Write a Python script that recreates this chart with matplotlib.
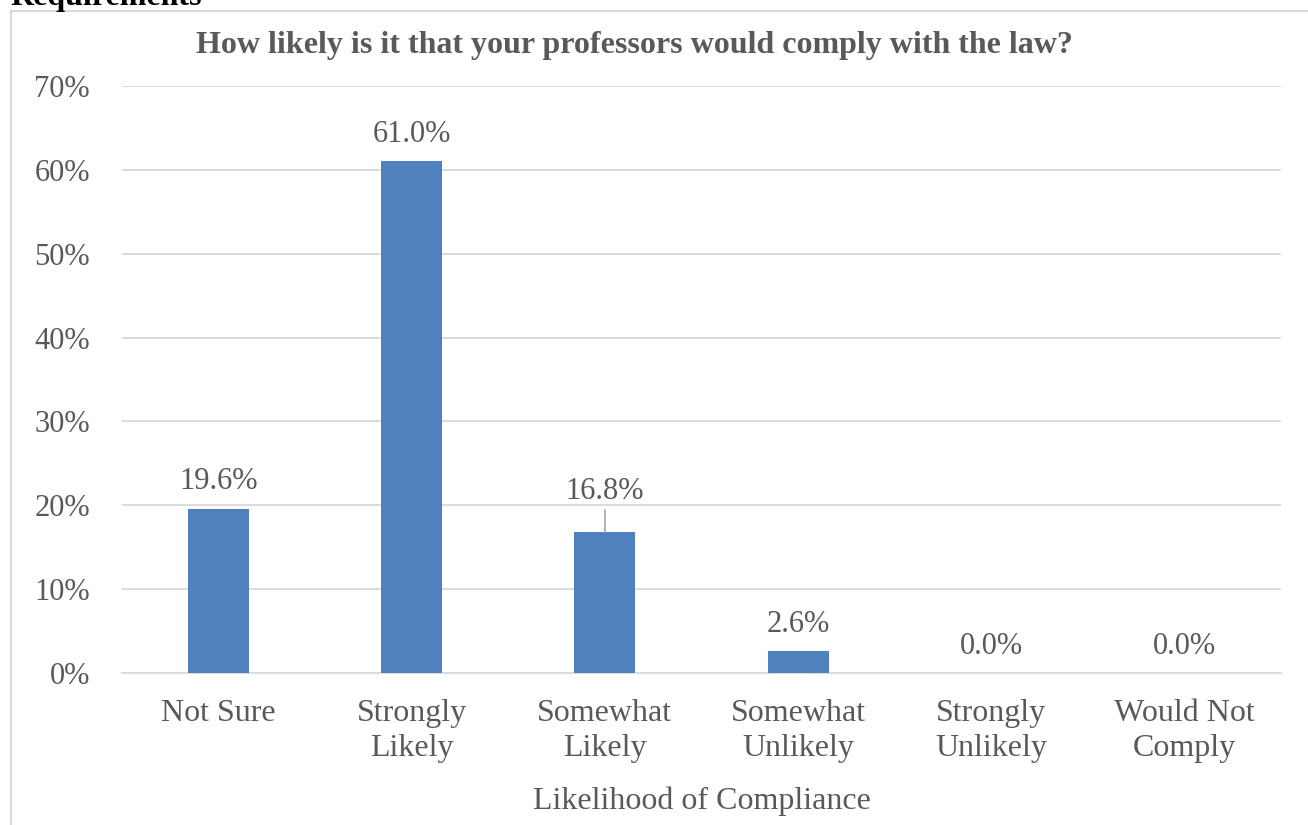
import matplotlib
matplotlib.use("Agg")
import matplotlib.pyplot as plt
from matplotlib.patches import Rectangle
from matplotlib.ticker import PercentFormatter

categories = ["Not Sure", "Strongly\nLikely", "Somewhat\nLikely", "Somewhat\nUnlikely",
              "Strongly\nUnlikely", "Would Not\nComply"]
values = [19.6, 61.0, 16.8, 2.6, 0.0, 0.0]
title = "How likely is it that your professors would comply with the law?"
xlabel = "Likelihood of Compliance"

plt.rcParams['font.family'] = ['Liberation Serif', 'DejaVu Serif']
TXT = "#595959"
W, H = 1308, 825
FS = 22
fig = plt.figure(figsize=(W / 100, H / 100), dpi=100)

# outer chart border
fig.patches.append(Rectangle((11 / W, -0.1), 2.0, 1 - 11 / H + 0.1, transform=fig.transFigure,
                             fill=False, edgecolor="#D9D9D9", linewidth=1.5))
fig.text(10 / W, 1 - 5 / H, "Requirements", fontsize=23, fontweight="bold", color="black",
         ha="left", va="baseline")
fig.text(634 / W, 1 - 45 / H, title, fontsize=23, fontweight="bold", color=TXT,
         ha="center", va="center")

ax = fig.add_axes([122 / W, 152 / H, (1281 - 122) / W, (673 - 86) / H])
x = list(range(len(categories)))
bars = ax.bar(x, values, width=0.315, color="#4F81BD", zorder=3)
ax.set_xlim(-0.5, len(categories) - 0.5)
ax.set_ylim(0, 70)
ax.set_yticks(range(0, 71, 10))
ax.yaxis.set_major_formatter(PercentFormatter(decimals=0))
ax.grid(axis="y", color="#D9D9D9", linewidth=1.3, zorder=0)
for s in ax.spines.values():
    s.set_visible(False)
ax.spines["bottom"].set_visible(True)
ax.spines["bottom"].set_color("#D9D9D9")
ax.spines["bottom"].set_linewidth(1.3)
ax.tick_params(length=0, colors=TXT)
ax.tick_params(axis="x", labelsize=23, pad=19)
ax.tick_params(axis="y", labelsize=FS, pad=23)
ax.set_xticks(x)
ax.set_xticklabels(categories, linespacing=1.27)
ax.set_xlabel(xlabel, fontsize=23, color=TXT, labelpad=16.5)

for i, v in enumerate(values):
    if i == 2:
        ax.annotate(f"{v:.1f}%", xy=(i, v), xytext=(i, v + 3.15), ha="center", va="bottom",
                    fontsize=FS, color=TXT,
                    arrowprops=dict(arrowstyle="-", color="#A6A6A6", lw=1.2, shrinkA=1, shrinkB=0))
    else:
        ax.annotate(f"{v:.1f}%", xy=(i, v), xytext=(0, 9), textcoords="offset points",
                    ha="center", va="bottom", fontsize=FS, color=TXT)

fig.savefig("out.png", dpi=100)
